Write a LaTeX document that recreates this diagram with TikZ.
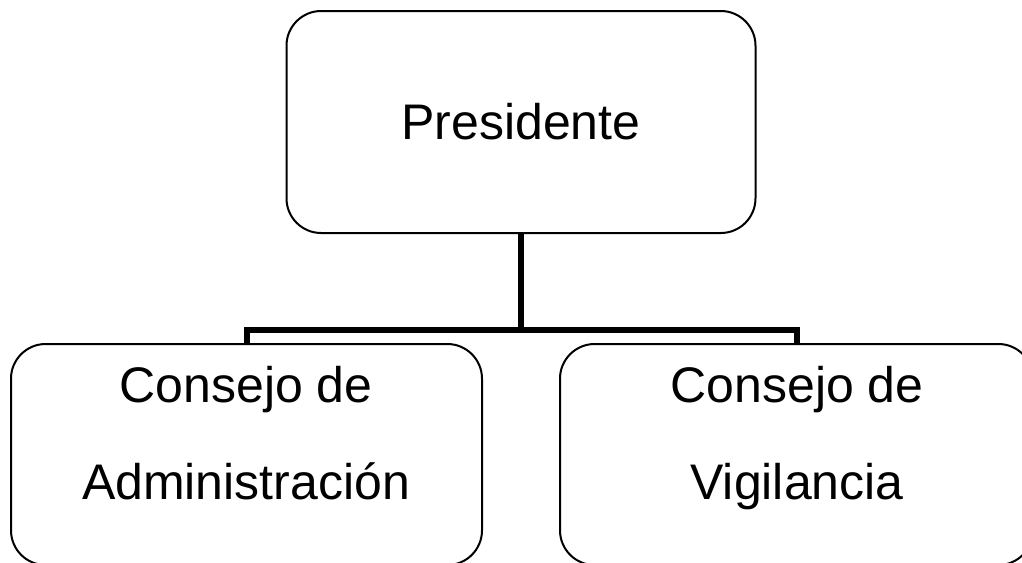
\documentclass[tikz,border=0pt]{standalone}
\usepackage{fontspec}
\setmainfont{Liberation Sans}

\begin{document}
\begin{tikzpicture}[x=0.75pt,y=-0.75pt,
    box/.style={draw,line width=1.5pt,rounded corners=26pt,inner sep=0pt},
    conn/.style={line width=4.5pt},
    lbl/.style={font=\fontsize{37.5}{72.75}\selectfont,align=center,inner sep=0pt}]
      \useasboundingbox (0,0) rectangle (1022,562);
      \clip (0,0) rectangle (1022,562);
      \node[box,lbl,minimum width=351.75pt,minimum height=166.5pt] (pres) at (521,122) {Presidente};
      \node[box,minimum width=353.25pt,minimum height=165.75pt] (adm) at (246.5,454.5) {};
      \node[box,minimum width=354.75pt,minimum height=165.75pt] (vig) at (796.5,454.5) {};
      \node[lbl,anchor=north] (admtxt) at (246,366) {Consejo de\\Administración};
      \node[lbl,anchor=north] (vigtxt) at (797,366) {Consejo de\\Vigilancia};
      \coordinate (bus) at (521,330);
      \draw[conn] (pres.south) -- (bus);
      \draw[conn] (adm.north) |- (bus) -| (vig.north);
    \end{tikzpicture}
\end{document}
